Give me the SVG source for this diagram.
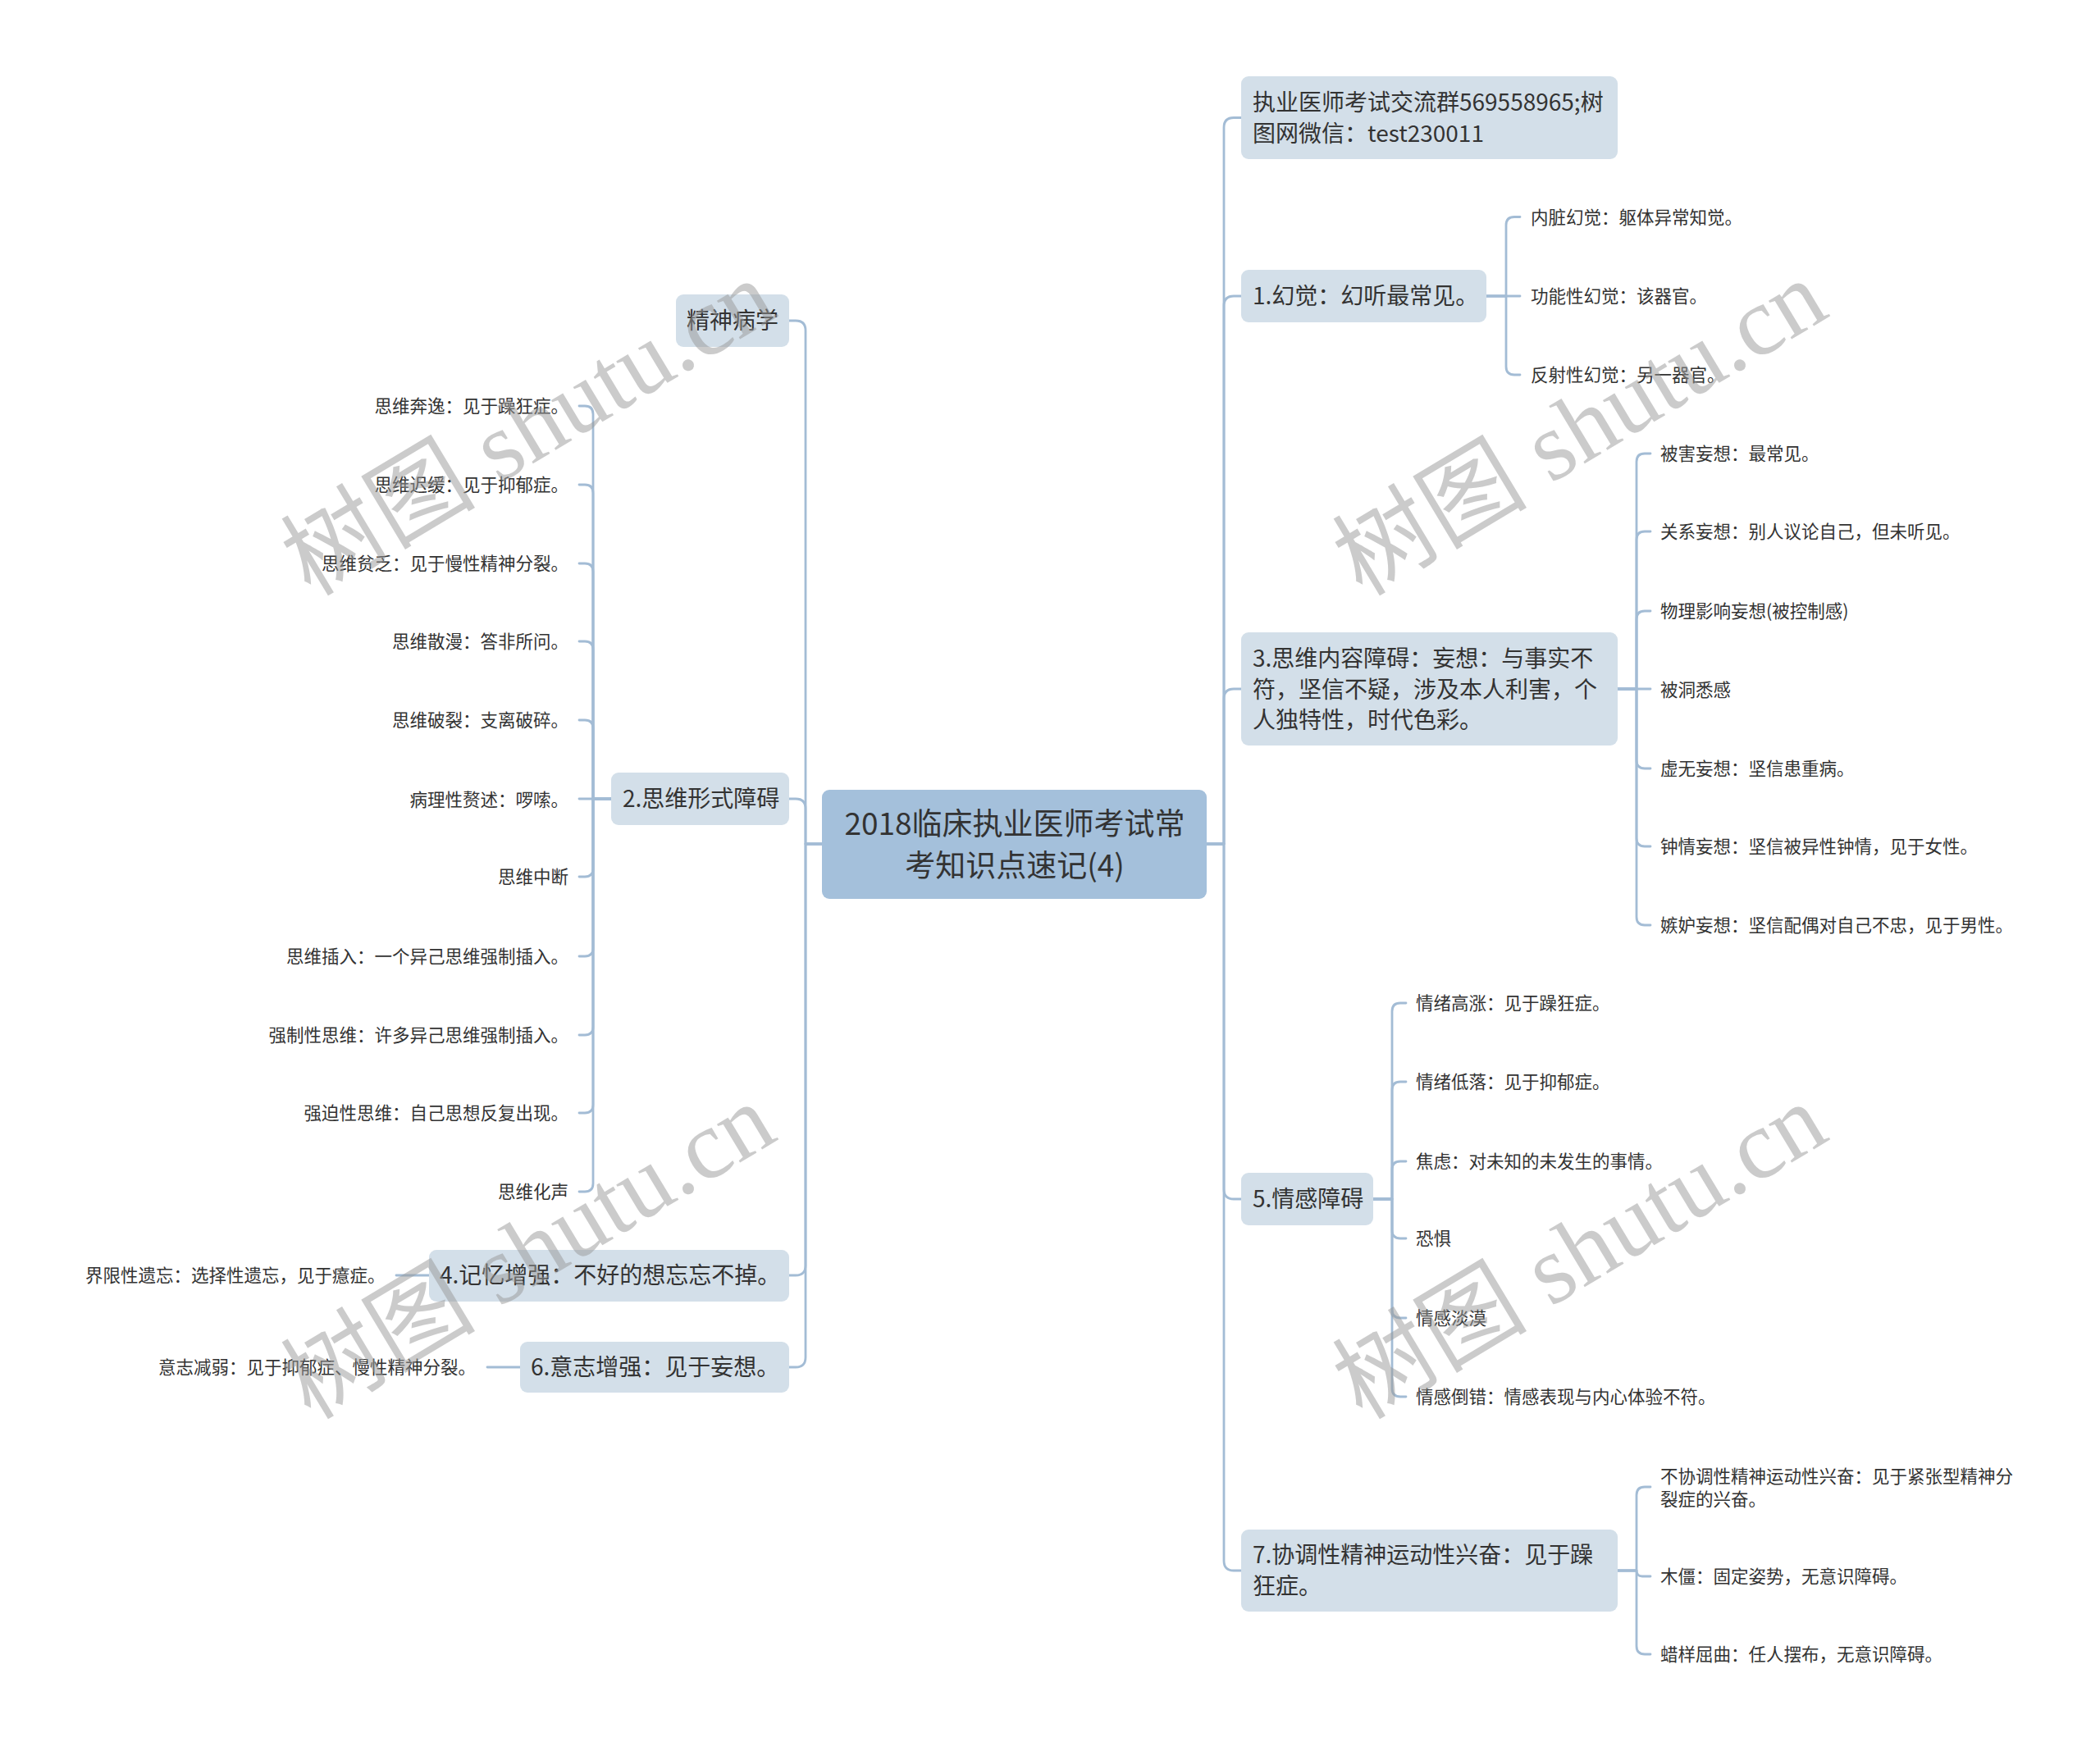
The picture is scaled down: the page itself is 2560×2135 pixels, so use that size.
<svg xmlns="http://www.w3.org/2000/svg" width="2560" height="2135" viewBox="0 0 2560 2135">
<style>
text{font-family:"Noto Sans CJK SC","Noto Sans",sans-serif;fill:#333333}
.root rect{fill:#a4c0db}
.root text{font-size:37px}
.n1 rect{fill:#d3dfe9}
.n1 text{font-size:28px}
.leaf text{font-size:21.5px}
.lines path{fill:none;stroke:#a3bcd5;stroke-width:2.8;stroke-linecap:round;stroke-linejoin:round}
.wm text{font-family:"Liberation Serif","Noto Sans CJK SC",serif;font-size:119px;fill:#999999;opacity:0.5}
</style>
<rect width="2560" height="2135" fill="#ffffff"/>
<g class="lines" id="connectors">
<path d="M1471,1029 H1492 V155.5 Q1492,143.5 1504,143.5 H1513"/>
<path d="M1471,1029 H1492 V373 Q1492,361 1504,361 H1513"/>
<path d="M1471,1029 H1492 V852 Q1492,840 1504,840 H1513"/>
<path d="M1471,1029 H1492 V1450 Q1492,1462 1504,1462 H1513"/>
<path d="M1471,1029 H1492 V1903 Q1492,1915 1504,1915 H1513"/>
<path d="M1002,1029 H982 V403 Q982,391 970,391 H962"/>
<path d="M1002,1029 H982 V986 Q982,974 970,974 H962"/>
<path d="M1002,1029 H982 V1543 Q982,1555 970,1555 H962"/>
<path d="M1002,1029 H982 V1655 Q982,1667 970,1667 H962"/>
<path d="M1812,361 H1836 V274.5 Q1836,264.5 1846,264.5 H1853"/>
<path d="M1812,361 H1853"/>
<path d="M1812,361 H1836 V447 Q1836,457 1846,457 H1853"/>
<path d="M1972,840 H1995 V563 Q1995,553 2005,553 H2012"/>
<path d="M1972,840 H1995 V658 Q1995,648 2005,648 H2012"/>
<path d="M1972,840 H1995 V755 Q1995,745 2005,745 H2012"/>
<path d="M1972,840 H2012"/>
<path d="M1972,840 H1995 V927 Q1995,937 2005,937 H2012"/>
<path d="M1972,840 H1995 V1022 Q1995,1032 2005,1032 H2012"/>
<path d="M1972,840 H1995 V1118 Q1995,1128 2005,1128 H2012"/>
<path d="M1674,1462 H1697 V1233 Q1697,1223 1707,1223 H1714"/>
<path d="M1674,1462 H1697 V1329 Q1697,1319 1707,1319 H1714"/>
<path d="M1674,1462 H1697 V1426 Q1697,1416 1707,1416 H1714"/>
<path d="M1674,1462 H1697 V1500 Q1697,1510 1707,1510 H1714"/>
<path d="M1674,1462 H1697 V1597 Q1697,1607 1707,1607 H1714"/>
<path d="M1674,1462 H1697 V1693 Q1697,1703 1707,1703 H1714"/>
<path d="M1972,1915 H1995 V1823 Q1995,1813 2005,1813 H2012"/>
<path d="M1972,1915 H1995 Q1995,1922 2002,1922 H2012"/>
<path d="M1972,1915 H1995 V2007 Q1995,2017 2005,2017 H2012"/>
<path d="M745,974 H723 V505 Q723,495 713,495 H706"/>
<path d="M745,974 H723 V601 Q723,591 713,591 H706"/>
<path d="M745,974 H723 V697 Q723,687 713,687 H706"/>
<path d="M745,974 H723 V792 Q723,782 713,782 H706"/>
<path d="M745,974 H723 V888 Q723,878 713,878 H706"/>
<path d="M745,974 H706"/>
<path d="M745,974 H723 V1059 Q723,1069 713,1069 H706"/>
<path d="M745,974 H723 V1156 Q723,1166 713,1166 H706"/>
<path d="M745,974 H723 V1252 Q723,1262 713,1262 H706"/>
<path d="M745,974 H723 V1347 Q723,1357 713,1357 H706"/>
<path d="M745,974 H723 V1443 Q723,1453 713,1453 H706"/>
<path d="M523,1555 H483"/>
<path d="M634,1667 H594"/>
</g>
<g id="root" class="root">
<rect x="1002" y="963" width="469" height="133" rx="9"/>
<text x="1237" y="1018" text-anchor="middle">2018临床执业医师考试常</text>
<text x="1237" y="1069" text-anchor="middle">考知识点速记(4)</text>
</g>
<g id="n0" class="n1">
<rect x="1513" y="93" width="459" height="101" rx="9"/>
<text x="1527" y="134.5">执业医师考试交流群569558965;树</text>
<text x="1527" y="172.5">图网微信：test230011</text>
</g>
<g id="n1" class="n1">
<rect x="1513" y="329" width="299" height="64" rx="9"/>
<text x="1527" y="371">1.幻觉：幻听最常见。</text>
</g>
<g id="n1-leaves" class="leaf">
<text x="1866" y="272.5">内脏幻觉：躯体异常知觉。</text>
<text x="1866" y="369">功能性幻觉：该器官。</text>
<text x="1866" y="465">反射性幻觉：另一器官。</text>
</g>
<g id="n3" class="n1">
<rect x="1513" y="771" width="459" height="138" rx="9"/>
<text x="1527" y="813">3.思维内容障碍：妄想：与事实不</text>
<text x="1527" y="850.5">符，坚信不疑，涉及本人利害，个</text>
<text x="1527" y="888">人独特性，时代色彩。</text>
</g>
<g id="n3-leaves" class="leaf">
<text x="2024" y="561">被害妄想：最常见。</text>
<text x="2024" y="656">关系妄想：别人议论自己，但未听见。</text>
<text x="2024" y="753">物理影响妄想(被控制感)</text>
<text x="2024" y="849">被洞悉感</text>
<text x="2024" y="945">虚无妄想：坚信患重病。</text>
<text x="2024" y="1040">钟情妄想：坚信被异性钟情，见于女性。</text>
<text x="2024" y="1136">嫉妒妄想：坚信配偶对自己不忠，见于男性。</text>
</g>
<g id="n5" class="n1">
<rect x="1513" y="1430" width="161" height="64" rx="9"/>
<text x="1527" y="1472">5.情感障碍</text>
</g>
<g id="n5-leaves" class="leaf">
<text x="1726" y="1231">情绪高涨：见于躁狂症。</text>
<text x="1726" y="1327">情绪低落：见于抑郁症。</text>
<text x="1726" y="1424">焦虑：对未知的未发生的事情。</text>
<text x="1726" y="1518">恐惧</text>
<text x="1726" y="1615">情感淡漠</text>
<text x="1726" y="1711">情感倒错：情感表现与内心体验不符。</text>
</g>
<g id="n7" class="n1">
<rect x="1513" y="1865" width="459" height="100" rx="9"/>
<text x="1527" y="1906">7.协调性精神运动性兴奋：见于躁</text>
<text x="1527" y="1943.5">狂症。</text>
</g>
<g id="n7-leaves" class="leaf">
<text x="2024" y="1808">不协调性精神运动性兴奋：见于紧张型精神分</text>
<text x="2024" y="1836">裂症的兴奋。</text>
<text x="2024" y="1930">木僵：固定姿势，无意识障碍。</text>
<text x="2024" y="2025">蜡样屈曲：任人摆布，无意识障碍。</text>
</g>
<g id="l0" class="n1">
<rect x="824" y="359" width="138" height="64" rx="9"/>
<text x="837" y="401">精神病学</text>
</g>
<g id="l2" class="n1">
<rect x="745" y="942" width="217" height="64" rx="9"/>
<text x="759" y="984">2.思维形式障碍</text>
</g>
<g id="l2-leaves" class="leaf">
<text x="693" y="503" text-anchor="end">思维奔逸：见于躁狂症。</text>
<text x="693" y="599" text-anchor="end">思维迟缓：见于抑郁症。</text>
<text x="693" y="695" text-anchor="end">思维贫乏：见于慢性精神分裂。</text>
<text x="693" y="790" text-anchor="end">思维散漫：答非所问。</text>
<text x="693" y="886" text-anchor="end">思维破裂：支离破碎。</text>
<text x="693" y="983" text-anchor="end">病理性赘述：啰嗦。</text>
<text x="693" y="1077" text-anchor="end">思维中断</text>
<text x="693" y="1174" text-anchor="end">思维插入：一个异己思维强制插入。</text>
<text x="693" y="1270" text-anchor="end">强制性思维：许多异己思维强制插入。</text>
<text x="693" y="1365" text-anchor="end">强迫性思维：自己思想反复出现。</text>
<text x="693" y="1461" text-anchor="end">思维化声</text>
</g>
<g id="l4" class="n1">
<rect x="523" y="1524" width="439" height="63" rx="9"/>
<text x="536" y="1565">4.记忆增强：不好的想忘忘不掉。</text>
</g>
<g id="l4-leaves" class="leaf">
<text x="104" y="1563">界限性遗忘：选择性遗忘，见于癔症。</text>
</g>
<g id="l6" class="n1">
<rect x="634" y="1636" width="328" height="62" rx="9"/>
<text x="647" y="1677">6.意志增强：见于妄想。</text>
</g>
<g id="l6-leaves" class="leaf">
<text x="193" y="1675">意志减弱：见于抑郁症、慢性精神分裂。</text>
</g>
<g class="wm" id="watermarks">
<text transform="translate(644,522) rotate(-31)" x="0" y="40" text-anchor="middle">树图 shutu.cn</text>
<text transform="translate(1926,522) rotate(-31)" x="0" y="40" text-anchor="middle">树图 shutu.cn</text>
<text transform="translate(644,1526) rotate(-31)" x="0" y="40" text-anchor="middle">树图 shutu.cn</text>
<text transform="translate(1926,1526) rotate(-31)" x="0" y="40" text-anchor="middle">树图 shutu.cn</text>
</g>
</svg>
